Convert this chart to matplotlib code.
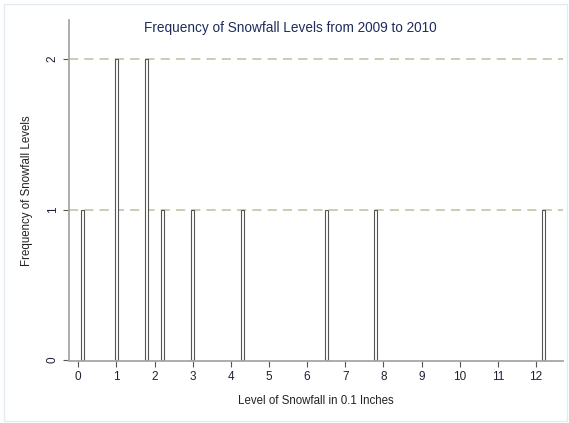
import matplotlib
matplotlib.use("Agg")
import matplotlib.pyplot as plt
from matplotlib.patches import Rectangle

plt.rcParams['font.family'] = ['Liberation Sans', 'DejaVu Sans']

snowfall_levels = [0.1, 1.0, 1.8, 2.2, 3.0, 4.3, 6.5, 7.8, 12.2]
frequencies = [1, 2, 2, 1, 1, 1, 1, 1, 1]
x_ticks = list(range(0, 13))
y_ticks = [0, 1, 2]

title = "Frequency of Snowfall Levels from 2009 to 2010"
xlabel = "Level of Snowfall in 0.1 Inches"
ylabel = "Frequency of Snowfall Levels"

fig = plt.figure(figsize=(5.69, 4.23), dpi=100)
fig.patch.set_facecolor('white')
fig.add_artist(Rectangle((4/569, 2/423), 563/569, 417/423, transform=fig.transFigure,
                         fill=False, edgecolor='#e3ebf0', linewidth=1))

ax = fig.add_axes([69/569, 1 - 360.5/423, (563 - 69)/569, (360.5 - 20)/423])
ax.set_xlim(-0.244, 12.71)
ax.set_ylim(-0.003, 2.259)

for y in [1, 2]:
    ax.axhline(y, color='#b3c59c', linewidth=1.1, linestyle=(0, (6, 4)), zorder=1)

ax.bar(snowfall_levels, frequencies, width=0.08, color='white', edgecolor='#555555',
       linewidth=0.8, zorder=2)

for s in ['top', 'right']:
    ax.spines[s].set_visible(False)
for s in ['left', 'bottom']:
    ax.spines[s].set_color('#a6a6a6')
    ax.spines[s].set_linewidth(1.3)

ax.set_xticks(x_ticks)
ax.set_yticks(y_ticks)
ax.tick_params(axis='both', colors='#555555', labelcolor='#1c2233', labelsize=8.5,
               length=4, width=0.8)
for lab in ax.get_yticklabels():
    lab.set_rotation(90)
    lab.set_va('center')

ax.set_xlabel(xlabel, fontsize=8.3, color='#222222', labelpad=9)
ax.set_ylabel(ylabel, fontsize=8.3, color='#222222', labelpad=10)

fig.text(290/569, 1 - 28/423, title, ha='center', va='center', fontsize=9.8,
         color='#1f2d5c')

fig.savefig("out.png", dpi=100)
